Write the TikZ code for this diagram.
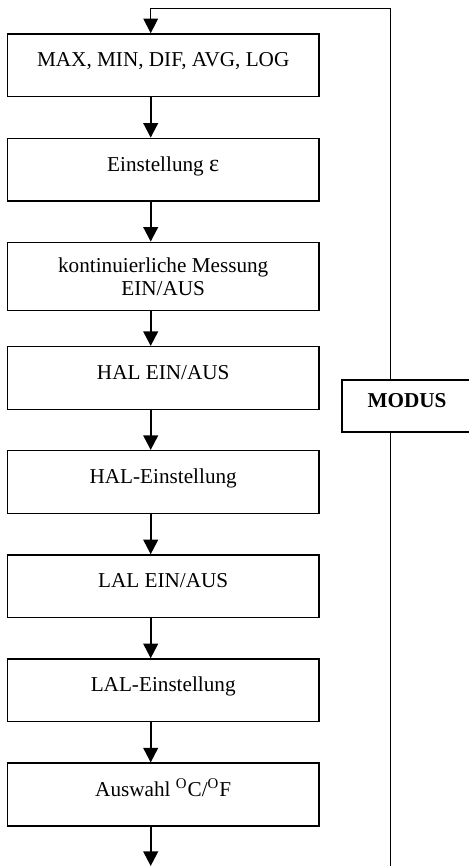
\documentclass[tikz,border=0pt]{standalone}
\usepackage{fontspec}
\setmainfont{Liberation Serif}
\usetikzlibrary{positioning}
\usetikzlibrary{arrows.meta}

\tikzset{
  flowbox/.style={draw, line width=0.65pt, minimum width=155.8pt, minimum height=31.4pt,
    inner sep=2pt, align=center, font=\fontsize{10.6}{11.5}\selectfont},
  onebox/.style={flowbox, text height=7.5pt, text depth=6pt},
  flowarrow/.style={line width=1.1pt, -{Triangle[width=7.3pt,length=7.3pt]}},
  loopline/.style={line width=0.6pt},
}

\begin{document}
\begin{tikzpicture}[x=0.5pt,y=-0.5pt]
\useasboundingbox (0,0) rectangle (469,866);

% Ablauf
\node[onebox] (werte) at (163.2,65.3) {MAX, MIN, DIF, AVG, LOG};
\node[onebox] (eps) at (163.2,169.7) {Einstellung {\fontsize{12}{12}\selectfont ε}};
\node[flowbox, minimum height=34.2pt] (mess) at (163.2,276.5) {kontinuierliche Messung\\EIN/AUS};
\node[onebox] (hal) at (163.2,378) {HAL EIN/AUS};
\node[onebox] (haleinst) at (163.2,482) {HAL-Einstellung};
\node[onebox] (lal) at (163.2,586.3) {LAL EIN/AUS};
\node[onebox] (laleinst) at (163.2,690.3) {LAL-Einstellung};
\node[onebox] (einheit) at (163.2,794.5) {Auswahl \textsuperscript{O}C/\textsuperscript{O}F};

\node[onebox, minimum width=65pt, minimum height=26pt,
  font=\fontsize{10.6}{11.5}\selectfont\bfseries] (modus) at (407,406) {MODUS};

\coordinate (achse) at (150.7,0);
\coordinate (ende) at (150.7,866);
\coordinate (oben) at (150.7,8.3);
\coordinate (rechts) at (390.7,8.3);
\coordinate (unten) at (390.7,870);

\draw[flowarrow] (werte.south -| achse) -- (eps.north -| achse);
\draw[flowarrow] (eps.south -| achse) -- (mess.north -| achse);
\draw[flowarrow] (mess.south -| achse) -- (hal.north -| achse);
\draw[flowarrow] (hal.south -| achse) -- (haleinst.north -| achse);
\draw[flowarrow] (haleinst.south -| achse) -- (lal.north -| achse);
\draw[flowarrow] (lal.south -| achse) -- (laleinst.north -| achse);
\draw[flowarrow] (laleinst.south -| achse) -- (einheit.north -| achse);
\draw[flowarrow] (einheit.south -| achse) -- (ende);

% Rueckfuehrung
\draw[loopline] (unten) -- (modus.south -| unten);
\draw[loopline, -{Triangle[width=7.3pt,length=7.3pt]}] (modus.north -| unten) -- (rechts) -- (oben) -- (werte.north -| achse);

\end{tikzpicture}
\end{document}
